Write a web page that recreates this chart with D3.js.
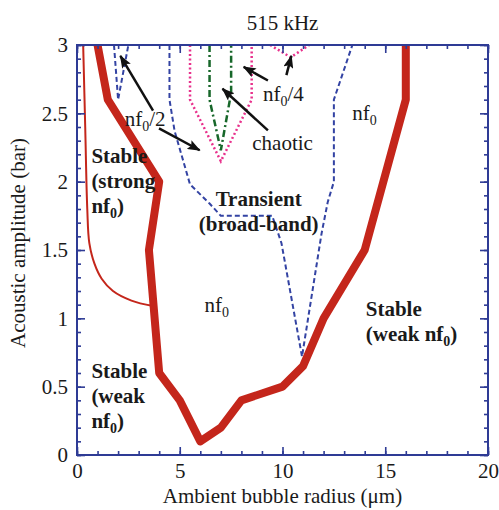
<!DOCTYPE html>
<html lang="en">
<head>
<meta charset="UTF-8">
<title>515 kHz</title>
<style>
  body { margin: 0; background: #fff; }
  text { font-family: "Liberation Serif", "DejaVu Serif", serif; fill: #1a1a1a; }
</style>
<script src="https://d3js.org/d3.v7.min.js"></script>
</head>
<body>
<svg width="499" height="510"></svg>
<script>
// thick red: stable / transient threshold
const transientLimit = [[1,3],[1.5,2.6],[4,2],[3.5,1.5],[4,0.6],[5,0.4],[6,0.1],[7,0.2],[8,0.4],[10,0.5],[11,0.65],[12,1.0],[14,1.5],[16,2.6],[16,3]];
// thin red: strong / weak nf0 boundary
const strongWeakLimit = [[0.3,3],[0.4,2.4],[0.5,1.8],[0.6,1.55],[0.85,1.4],[1.2,1.29],[1.75,1.2],[2.65,1.13],[3.7,1.09]];
// blue dashed
const halfHarmonicSmall = [[1.8,3],[2.0,2.6],[2.5,3]];
const broadBandLimit = [[4.5,3],[4.5,2.6],[4.75,2.37],[5.5,1.98],[6.45,1.84],[7,1.75],[9.5,1.75],[9.95,1.55],[10.95,0.72],[11.9,1.62],[12.2,1.85],[12.5,2.0],[12.5,2.6],[13.4,3]];
// pink dotted
const halfHarmonicLarge = [[5.5,3],[5.5,2.6],[7,2.15],[8.5,2.6],[8.5,3]];
const quarterHarmonic = [[9.4,3],[10.4,2.91],[11.3,3]];
// green dash-dot
const chaoticRegion = [[6.45,3],[6.45,2.6],[7.0,2.23],[7.5,2.65],[7.5,3]];

const xMajor = [0,5,10,15,20];
const xMinor = d3.range(0, 21, 1);
const yMajor = [0,0.5,1,1.5,2,2.5,3];
const yMinor = d3.range(0, 31, 1).map(d => d / 10);

// labels: [x, y, bold, lines]; "_" marks subscript
const labels = [
    [0.7, 2.14, true, ["Stable", "(strong", "nf_0)"]],
    [0.7, 0.567, true, ["Stable", "(weak", "nf_0)"]],
    [14.05, 1.02, true, ["Stable", "(weak nf_0)"]],
    [8.84, 1.82, true, ["Transient", "(broad-band)"], "middle"],
    [6.21, 1.05, false, ["nf_0"]],
    [13.4, 2.45, false, ["nf_0"]],
    [2.32, 2.41, false, ["nf_0/2"]],
    [8.53, 2.23, false, ["chaotic"]],
    [9.05, 2.59, false, ["nf_0/4"]]
];

// arrows: tail -> head
const arrows = [
    [[3.70,2.52],[2.11,2.92]],
    [[3.99,2.39],[5.97,2.23]],
    [[9.29,2.375],[7.08,2.68]],
    [[9.29,2.74],[8.11,2.84]],
    [[10.19,2.78],[10.43,2.92]]
];

const svg = d3.select("svg"),
    margin = {top: 45, right: 11, bottom: 55, left: 77},
    width = +svg.attr("width") - margin.left - margin.right,
    height = +svg.attr("height") - margin.top - margin.bottom;

const axisColor = "#2e3b95";

const x = d3.scaleLinear().domain([0, 20]).range([0, width]);
const y = d3.scaleLinear().domain([0, 3]).range([height, 0]);

const g = svg.append("g").attr("transform", `translate(${margin.left},${margin.top})`);

svg.append("defs").append("clipPath").attr("id", "plot")
    .append("rect").attr("width", width).attr("height", height);

svg.select("defs").append("marker")
    .attr("id", "head")
    .attr("markerUnits", "userSpaceOnUse")
    .attr("viewBox", "0 0 13 10")
    .attr("refX", 12).attr("refY", 5)
    .attr("markerWidth", 13).attr("markerHeight", 10)
    .attr("orient", "auto")
    .append("path").attr("d", "M0,0 L13,5 L0,10 L2.5,5 z").attr("fill", "#111");

const line = d3.line().x(d => x(d[0])).y(d => y(d[1]));

const curves = g.append("g").attr("clip-path", "url(#plot)");

curves.append("path").datum(strongWeakLimit)
    .attr("d", line.curve(d3.curveCatmullRom))
    .attr("fill", "none").attr("stroke", "#c4261b").attr("stroke-width", 2);
line.curve(d3.curveLinear);

curves.append("path").datum(transientLimit)
    .attr("d", line)
    .attr("fill", "none").attr("stroke", "#c4261b").attr("stroke-width", 8)
    .attr("stroke-linejoin", "round");

[halfHarmonicSmall, broadBandLimit].forEach(s => {
    curves.append("path").datum(s).attr("d", line)
        .attr("fill", "none").attr("stroke", "#3343a3").attr("stroke-width", 2)
        .attr("stroke-dasharray", "5,3");
});

[halfHarmonicLarge, quarterHarmonic].forEach(s => {
    curves.append("path").datum(s).attr("d", line)
        .attr("fill", "none").attr("stroke", "#e8318c").attr("stroke-width", 2.5)
        .attr("stroke-dasharray", "2,2.5");
});

curves.append("path").datum(chaoticRegion).attr("d", line)
    .attr("fill", "none").attr("stroke", "#17672a").attr("stroke-width", 2.5)
    .attr("stroke-dasharray", "7,3,2,3");

// arrows
g.append("g").selectAll("line")
    .data(arrows)
    .enter().append("line")
    .attr("x1", d => x(d[0][0])).attr("y1", d => y(d[0][1]))
    .attr("x2", d => x(d[1][0])).attr("y2", d => y(d[1][1]))
    .attr("stroke", "#111").attr("stroke-width", 2.5)
    .attr("marker-end", "url(#head)");

// labels
labels.forEach(([lx, ly, bold, lines, anchor]) => {
    lines.forEach((str, i) => {
        const t = g.append("text")
            .attr("x", x(lx)).attr("y", y(ly) + i * 25)
            .attr("font-size", 21)
            .attr("font-weight", bold ? "bold" : "normal")
            .attr("text-anchor", anchor || "start");
        const parts = str.split("_");
        t.append("tspan").text(parts[0]);
        if (parts.length > 1) {
            t.append("tspan").attr("font-size", 14).attr("dy", 5).text(parts[1][0]);
            if (parts[1].length > 1) t.append("tspan").attr("dy", -5).text(parts[1].slice(1));
        }
    });
});

// axes
function styleAxis(sel) {
    sel.select(".domain").remove();
    sel.selectAll("line").attr("stroke", axisColor).attr("stroke-width", 1.6);
    sel.selectAll("text").attr("font-size", 21).attr("fill", "#1a1a1a")
        .attr("font-family", '"Liberation Serif", serif');
}

const fmt = d3.format("~g");

g.append("g").attr("transform", `translate(0,${height})`)
    .call(d3.axisBottom(x).tickValues(xMinor).tickSize(-4).tickFormat(""))
    .call(styleAxis);
g.append("g").attr("transform", `translate(0,${height})`)
    .call(d3.axisBottom(x).tickValues(xMajor).tickSize(-8).tickPadding(8).tickFormat(fmt))
    .call(styleAxis);
g.append("g")
    .call(d3.axisTop(x).tickValues(xMinor).tickSize(-4).tickFormat(""))
    .call(styleAxis);
g.append("g")
    .call(d3.axisTop(x).tickValues(xMajor).tickSize(-8).tickFormat(""))
    .call(styleAxis);

g.append("g")
    .call(d3.axisLeft(y).tickValues(yMinor).tickSize(-4).tickFormat(""))
    .call(styleAxis);
g.append("g")
    .call(d3.axisLeft(y).tickValues(yMajor).tickSize(-8).tickPadding(9).tickFormat(fmt))
    .call(styleAxis);
g.append("g").attr("transform", `translate(${width},0)`)
    .call(d3.axisRight(y).tickValues(yMinor).tickSize(-4).tickFormat(""))
    .call(styleAxis);
g.append("g").attr("transform", `translate(${width},0)`)
    .call(d3.axisRight(y).tickValues(yMajor).tickSize(-8).tickFormat(""))
    .call(styleAxis);

g.append("rect")
    .attr("width", width).attr("height", height)
    .attr("fill", "none").attr("stroke", axisColor).attr("stroke-width", 2);

// titles
svg.append("text")
    .attr("x", 282.5).attr("y", 30)
    .attr("text-anchor", "middle").attr("font-size", 21)
    .text("515 kHz");

svg.append("text")
    .attr("x", 282.5).attr("y", 503)
    .attr("text-anchor", "middle").attr("font-size", 21)
    .text("Ambient bubble radius (\u03bcm)");

svg.append("text")
    .attr("transform", "translate(25,243) rotate(-90)")
    .attr("text-anchor", "middle").attr("font-size", 21)
    .text("Acoustic amplitude (bar)");
</script>
</body>
</html>
